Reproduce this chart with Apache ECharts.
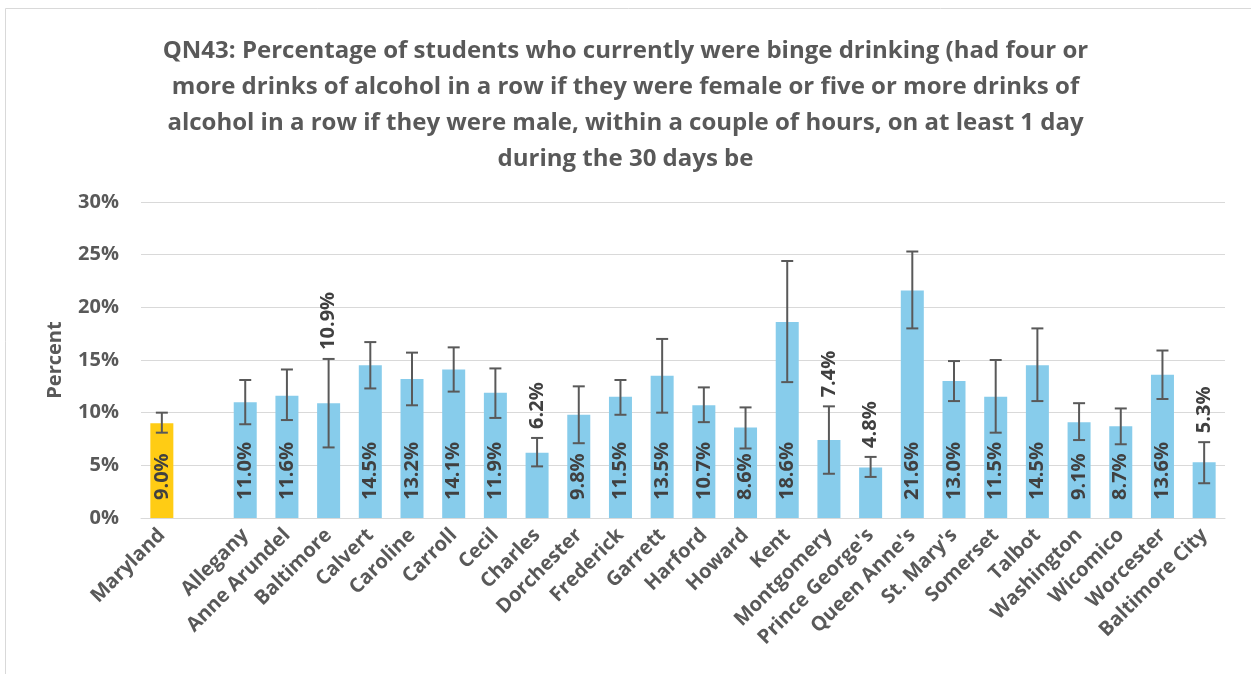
<!DOCTYPE html>
<html>
<head>
<meta charset="utf-8">
<script src="https://cdn.jsdelivr.net/npm/echarts@6/dist/echarts.min.js"></script>
<style>
  html, body { margin: 0; padding: 0; background: #fff; }
  #chart { width: 1251px; height: 674px; }
</style>
</head>
<body>
<div id="chart"></div>
<script>
// ============================================================================
// Data
// ============================================================================

const counties = ['Maryland', '', 'Allegany', 'Anne Arundel', 'Baltimore', 'Calvert', 'Caroline', 'Carroll',
    'Cecil', 'Charles', 'Dorchester', 'Frederick', 'Garrett', 'Harford', 'Howard', 'Kent', 'Montgomery',
    "Prince George's", "Queen Anne's", "St. Mary's", 'Somerset', 'Talbot', 'Washington', 'Wicomico',
    'Worcester', 'Baltimore City']
const percents = [9.0, null, 11.0, 11.6, 10.9, 14.5, 13.2, 14.1, 11.9, 6.2, 9.8, 11.5, 13.5, 10.7, 8.6, 18.6,
    7.4, 4.8, 21.6, 13.0, 11.5, 14.5, 9.1, 8.7, 13.6, 5.3]
const lowerCI = [8.1, null, 8.9, 9.3, 6.7, 12.3, 10.7, 12.0, 9.5, 4.9, 7.1, 9.8, 10.0, 9.1, 6.6, 12.9,
    4.2, 3.9, 18.0, 11.1, 8.1, 11.1, 7.4, 7.0, 11.3, 3.3]
const upperCI = [10.0, null, 13.1, 14.1, 15.1, 16.7, 15.7, 16.2, 14.2, 7.6, 12.5, 13.1, 17.0, 12.4, 10.5, 24.4,
    10.6, 5.8, 25.3, 14.9, 15.0, 18.0, 10.9, 10.4, 15.9, 7.2]
// labels that sit above the error bar instead of inside the bar
const labelsAbove = ['Baltimore', 'Charles', 'Montgomery', "Prince George's", 'Baltimore City']
const yTicks = [0, 5, 10, 15, 20, 25, 30]

const titleLines = [
    'QN43: Percentage of students who currently were binge drinking (had four or',
    'more drinks of alcohol in a row if they were female or five or more drinks of',
    'alcohol in a row if they were male, within a couple of hours, on at least 1 day',
    'during the 30 days be'
]

// ============================================================================
// Chart
// ============================================================================

const textColor = '#595959'
const fontFamily = 'Open Sans'

const barData = percents.map((v, i) => {
    if (v === null) return '-'
    const inside = !labelsAbove.includes(counties[i])
    return {
        value: v,
        itemStyle: {color: i === 0 ? '#FFCC14' : '#87CCEB'},
        label: {show: inside}
    }
})

const errorData = percents.map((v, i) => v === null ? null : [i, lowerCI[i], upperCI[i], v])
    .filter(d => d !== null)

function renderErrorBar(params, api) {
    const idx = api.value(0)
    const low = api.coord([idx, api.value(1)])
    const high = api.coord([idx, api.value(2)])
    const cap = 6
    const style = {stroke: '#595959', lineWidth: 2}
    const children = [
        {type: 'line', shape: {x1: high[0], y1: high[1], x2: low[0], y2: low[1]}, style: style},
        {type: 'line', shape: {x1: high[0] - cap, y1: high[1], x2: high[0] + cap, y2: high[1]}, style: style},
        {type: 'line', shape: {x1: low[0] - cap, y1: low[1], x2: low[0] + cap, y2: low[1]}, style: style}
    ]
    if (labelsAbove.includes(counties[idx])) {
        children.push({
            type: 'text',
            x: high[0],
            y: high[1] - 9,
            rotation: Math.PI / 2,
            style: {
                text: api.value(3).toFixed(1) + '%',
                fill: '#404040',
                font: 'bold 20px ' + fontFamily,
                align: 'left',
                verticalAlign: 'middle'
            }
        })
    }
    return {type: 'group', children: children}
}

const chart = echarts.init(document.getElementById('chart'))
chart.setOption({
    animation: false,
    textStyle: {fontFamily: fontFamily},
    title: {
        text: titleLines.join('\n'),
        left: 'center',
        top: 28,
        textStyle: {
            color: textColor,
            fontSize: 24,
            fontWeight: 'bold',
            lineHeight: 36,
            fontFamily: fontFamily
        }
    },
    graphic: [{
        type: 'rect',
        shape: {x: 5.5, y: 8.5, width: 1300, height: 700},
        style: {fill: 'none', stroke: '#d9d9d9', lineWidth: 1},
        silent: true
    }],
    grid: {left: 141, right: 26, top: 202, bottom: 156},
    xAxis: {
        type: 'category',
        data: counties,
        axisTick: {show: false},
        axisLine: {lineStyle: {color: '#d9d9d9', width: 1}},
        axisLabel: {
            interval: 0,
            rotate: 45,
            color: textColor,
            fontSize: 20,
            fontWeight: 'bold',
            margin: 14
        }
    },
    yAxis: {
        type: 'value',
        min: yTicks[0],
        max: yTicks[yTicks.length - 1],
        interval: 5,
        name: 'Percent',
        nameLocation: 'middle',
        nameGap: 76,
        nameTextStyle: {color: textColor, fontSize: 20, fontWeight: 'bold'},
        axisLabel: {
            formatter: '{value}%',
            color: textColor,
            fontSize: 20,
            fontWeight: 'bold',
            margin: 22
        },
        splitLine: {lineStyle: {color: '#d9d9d9', width: 1}}
    },
    series: [
        {
            type: 'bar',
            data: barData,
            barWidth: 23,
            label: {
                position: 'insideBottom',
                rotate: 90,
                align: 'left',
                verticalAlign: 'middle',
                distance: 18,
                formatter: p => p.value.toFixed(1) + '%',
                color: '#404040',
                fontSize: 20,
                fontWeight: 'bold'
            }
        },
        {
            type: 'custom',
            data: errorData,
            renderItem: renderErrorBar,
            z: 10
        }
    ]
})
</script>
</body>
</html>
